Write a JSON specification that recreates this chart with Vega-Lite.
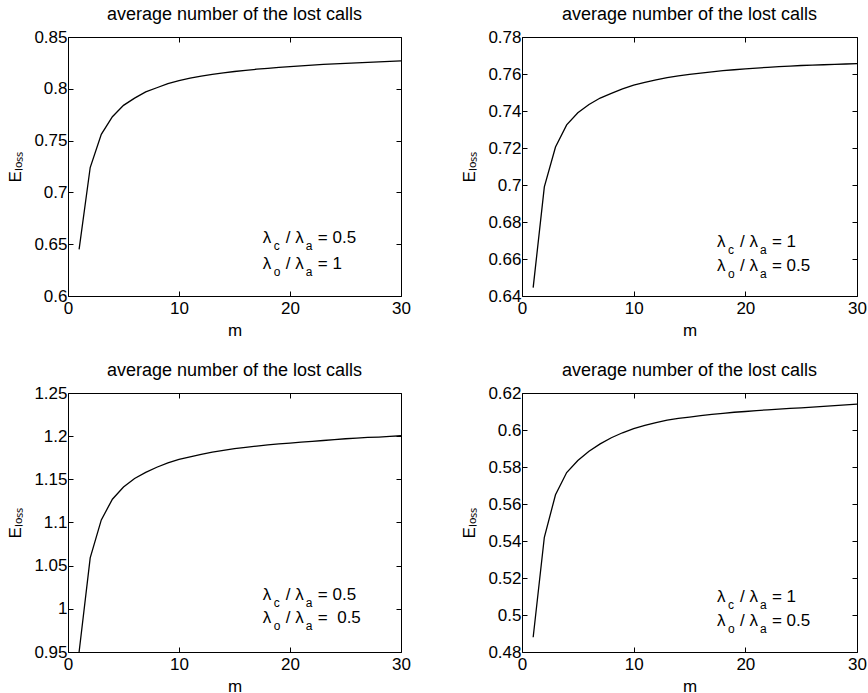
{
  "$schema": "https://vega.github.io/schema/vega-lite/v6.json",
  "autosize": {"type": "pad"},
  "padding": {"left": 6, "top": 5, "right": 0, "bottom": 0},
  "background": "white",
  "datasets": {
    "p1": [{"m":1,"E":0.645},{"m":2,"E":0.724},{"m":3,"E":0.756},{"m":4,"E":0.773},{"m":5,"E":0.784},{"m":6,"E":0.791},{"m":7,"E":0.797},{"m":8,"E":0.801},{"m":9,"E":0.805},{"m":10,"E":0.808},{"m":11,"E":0.8102},{"m":12,"E":0.8122},{"m":13,"E":0.8139},{"m":14,"E":0.8154},{"m":15,"E":0.8167},{"m":16,"E":0.8178},{"m":17,"E":0.8189},{"m":18,"E":0.8198},{"m":19,"E":0.8207},{"m":20,"E":0.8215},{"m":21,"E":0.8222},{"m":22,"E":0.8229},{"m":23,"E":0.8235},{"m":24,"E":0.8241},{"m":25,"E":0.8246},{"m":26,"E":0.8251},{"m":27,"E":0.8256},{"m":28,"E":0.826},{"m":29,"E":0.8265},{"m":30,"E":0.8269}],
    "p2": [{"m":1,"E":0.6445},{"m":2,"E":0.699},{"m":3,"E":0.7205},{"m":4,"E":0.7325},{"m":5,"E":0.739},{"m":6,"E":0.7435},{"m":7,"E":0.747},{"m":8,"E":0.7495},{"m":9,"E":0.752},{"m":10,"E":0.754},{"m":11,"E":0.7555},{"m":12,"E":0.7568},{"m":13,"E":0.758},{"m":14,"E":0.759},{"m":15,"E":0.7598},{"m":16,"E":0.7605},{"m":17,"E":0.7612},{"m":18,"E":0.7618},{"m":19,"E":0.7623},{"m":20,"E":0.7628},{"m":21,"E":0.7632},{"m":22,"E":0.7636},{"m":23,"E":0.764},{"m":24,"E":0.7643},{"m":25,"E":0.7646},{"m":26,"E":0.7648},{"m":27,"E":0.765},{"m":28,"E":0.7652},{"m":29,"E":0.7654},{"m":30,"E":0.7656}],
    "p3": [{"m":1,"E":0.95},{"m":2,"E":1.059},{"m":3,"E":1.103},{"m":4,"E":1.127},{"m":5,"E":1.141},{"m":6,"E":1.151},{"m":7,"E":1.158},{"m":8,"E":1.164},{"m":9,"E":1.169},{"m":10,"E":1.173},{"m":11,"E":1.176},{"m":12,"E":1.179},{"m":13,"E":1.1815},{"m":14,"E":1.1835},{"m":15,"E":1.1855},{"m":16,"E":1.187},{"m":17,"E":1.1885},{"m":18,"E":1.19},{"m":19,"E":1.191},{"m":20,"E":1.192},{"m":21,"E":1.193},{"m":22,"E":1.194},{"m":23,"E":1.195},{"m":24,"E":1.196},{"m":25,"E":1.197},{"m":26,"E":1.1977},{"m":27,"E":1.1985},{"m":28,"E":1.199},{"m":29,"E":1.1997},{"m":30,"E":1.2005}],
    "p4": [{"m":1,"E":0.488},{"m":2,"E":0.542},{"m":3,"E":0.565},{"m":4,"E":0.577},{"m":5,"E":0.5835},{"m":6,"E":0.5885},{"m":7,"E":0.5925},{"m":8,"E":0.5958},{"m":9,"E":0.5985},{"m":10,"E":0.6007},{"m":11,"E":0.6025},{"m":12,"E":0.604},{"m":13,"E":0.6053},{"m":14,"E":0.6063},{"m":15,"E":0.607},{"m":16,"E":0.6078},{"m":17,"E":0.6085},{"m":18,"E":0.609},{"m":19,"E":0.6096},{"m":20,"E":0.61},{"m":21,"E":0.6105},{"m":22,"E":0.6109},{"m":23,"E":0.6113},{"m":24,"E":0.6117},{"m":25,"E":0.612},{"m":26,"E":0.6124},{"m":27,"E":0.6128},{"m":28,"E":0.6132},{"m":29,"E":0.6136},{"m":30,"E":0.614}],
    "p1a": [{"m":17.55,"E":0.6558,"l1":"λ","s1":"c","l2":"/ λ","s2":"a","l3":"= 0.5"},{"m":17.55,"E":0.6308,"l1":"λ","s1":"o","l2":"/ λ","s2":"a","l3":"= 1"}],
    "p2a": [{"m":17.46,"E":0.6692,"l1":"λ","s1":"c","l2":"/ λ","s2":"a","l3":"= 1"},{"m":17.46,"E":0.6562,"l1":"λ","s1":"o","l2":"/ λ","s2":"a","l3":"= 0.5"}],
    "p3a": [{"m":17.55,"E":1.016,"l1":"λ","s1":"c","l2":"/ λ","s2":"a","l3":"= 0.5"},{"m":17.55,"E":0.9894,"l1":"λ","s1":"o","l2":"/ λ","s2":"a","l3":"\u00a0=\u00a0\u00a00.5"}],
    "p4a": [{"m":17.46,"E":0.5096,"l1":"λ","s1":"c","l2":"/ λ","s2":"a","l3":"= 1"},{"m":17.46,"E":0.4967,"l1":"λ","s1":"o","l2":"/ λ","s2":"a","l3":"= 0.5"}]
  },
  "concat": [
    {
      "width": 333, "height": 259,
      "title": "average number of the lost calls",
      "layer": [
        {"data": {"name": "p1"}, "mark": {"type": "line", "color": "black", "strokeWidth": 1.3},
         "encoding": {
           "x": {"field": "m", "type": "quantitative", "scale": {"domain": [0, 30], "nice": false}, "axis": {"orient": "bottom", "title": "m", "values": [0, 10, 20, 30]}},
           "y": {"field": "E", "type": "quantitative", "scale": {"domain": [0.6, 0.85], "nice": false, "zero": false}, "axis": {"orient": "left", "title": "Eₗₒₛₛ", "values": [0.6, 0.65, 0.7, 0.75, 0.8, 0.85]}}
         }},
        {"data": {"name": "p1a"},
         "encoding": {
           "x": {"field": "m", "type": "quantitative", "scale": {"domain": [0, 30], "nice": false}, "axis": {"orient": "top", "title": null, "labels": false, "values": [0, 10, 20, 30]}},
           "y": {"field": "E", "type": "quantitative", "scale": {"domain": [0.6, 0.85], "nice": false, "zero": false}, "axis": {"orient": "right", "title": null, "labels": false, "values": [0.6, 0.65, 0.7, 0.75, 0.8, 0.85]}}
         },
         "layer": [
           {"mark": {"type": "text", "align": "left", "baseline": "middle", "fontSize": 17}, "encoding": {"text": {"field": "l1"}}},
           {"mark": {"type": "text", "align": "left", "baseline": "middle", "fontSize": 12, "dx": 11, "dy": 8}, "encoding": {"text": {"field": "s1"}}},
           {"mark": {"type": "text", "align": "left", "baseline": "middle", "fontSize": 17, "dx": 23}, "encoding": {"text": {"field": "l2"}}},
           {"mark": {"type": "text", "align": "left", "baseline": "middle", "fontSize": 12, "dx": 43, "dy": 8}, "encoding": {"text": {"field": "s2"}}},
           {"mark": {"type": "text", "align": "left", "baseline": "middle", "fontSize": 17, "dx": 55}, "encoding": {"text": {"field": "l3"}}}
         ]}
      ],
      "resolve": {"axis": {"x": "independent", "y": "independent"}}
    },
    {
      "width": 335, "height": 259,
      "title": "average number of the lost calls",
      "layer": [
        {"data": {"name": "p2"}, "mark": {"type": "line", "color": "black", "strokeWidth": 1.3},
         "encoding": {
           "x": {"field": "m", "type": "quantitative", "scale": {"domain": [0, 30], "nice": false}, "axis": {"orient": "bottom", "title": "m", "values": [0, 10, 20, 30]}},
           "y": {"field": "E", "type": "quantitative", "scale": {"domain": [0.64, 0.78], "nice": false, "zero": false}, "axis": {"orient": "left", "title": "Eₗₒₛₛ", "values": [0.64, 0.66, 0.68, 0.7, 0.72, 0.74, 0.76, 0.78]}}
         }},
        {"data": {"name": "p2a"},
         "encoding": {
           "x": {"field": "m", "type": "quantitative", "scale": {"domain": [0, 30], "nice": false}, "axis": {"orient": "top", "title": null, "labels": false, "values": [0, 10, 20, 30]}},
           "y": {"field": "E", "type": "quantitative", "scale": {"domain": [0.64, 0.78], "nice": false, "zero": false}, "axis": {"orient": "right", "title": null, "labels": false, "values": [0.64, 0.66, 0.68, 0.7, 0.72, 0.74, 0.76, 0.78]}}
         },
         "layer": [
           {"mark": {"type": "text", "align": "left", "baseline": "middle", "fontSize": 17}, "encoding": {"text": {"field": "l1"}}},
           {"mark": {"type": "text", "align": "left", "baseline": "middle", "fontSize": 12, "dx": 11, "dy": 8}, "encoding": {"text": {"field": "s1"}}},
           {"mark": {"type": "text", "align": "left", "baseline": "middle", "fontSize": 17, "dx": 23}, "encoding": {"text": {"field": "l2"}}},
           {"mark": {"type": "text", "align": "left", "baseline": "middle", "fontSize": 12, "dx": 43, "dy": 8}, "encoding": {"text": {"field": "s2"}}},
           {"mark": {"type": "text", "align": "left", "baseline": "middle", "fontSize": 17, "dx": 55}, "encoding": {"text": {"field": "l3"}}}
         ]}
      ],
      "resolve": {"axis": {"x": "independent", "y": "independent"}}
    },
    {
      "width": 333, "height": 259,
      "title": "average number of the lost calls",
      "layer": [
        {"data": {"name": "p3"}, "mark": {"type": "line", "color": "black", "strokeWidth": 1.3},
         "encoding": {
           "x": {"field": "m", "type": "quantitative", "scale": {"domain": [0, 30], "nice": false}, "axis": {"orient": "bottom", "title": "m", "values": [0, 10, 20, 30]}},
           "y": {"field": "E", "type": "quantitative", "scale": {"domain": [0.95, 1.25], "nice": false, "zero": false}, "axis": {"orient": "left", "title": "Eₗₒₛₛ", "values": [0.95, 1, 1.05, 1.1, 1.15, 1.2, 1.25]}}
         }},
        {"data": {"name": "p3a"},
         "encoding": {
           "x": {"field": "m", "type": "quantitative", "scale": {"domain": [0, 30], "nice": false}, "axis": {"orient": "top", "title": null, "labels": false, "values": [0, 10, 20, 30]}},
           "y": {"field": "E", "type": "quantitative", "scale": {"domain": [0.95, 1.25], "nice": false, "zero": false}, "axis": {"orient": "right", "title": null, "labels": false, "values": [0.95, 1, 1.05, 1.1, 1.15, 1.2, 1.25]}}
         },
         "layer": [
           {"mark": {"type": "text", "align": "left", "baseline": "middle", "fontSize": 17}, "encoding": {"text": {"field": "l1"}}},
           {"mark": {"type": "text", "align": "left", "baseline": "middle", "fontSize": 12, "dx": 11, "dy": 8}, "encoding": {"text": {"field": "s1"}}},
           {"mark": {"type": "text", "align": "left", "baseline": "middle", "fontSize": 17, "dx": 23}, "encoding": {"text": {"field": "l2"}}},
           {"mark": {"type": "text", "align": "left", "baseline": "middle", "fontSize": 12, "dx": 43, "dy": 8}, "encoding": {"text": {"field": "s2"}}},
           {"mark": {"type": "text", "align": "left", "baseline": "middle", "fontSize": 17, "dx": 55}, "encoding": {"text": {"field": "l3"}}}
         ]}
      ],
      "resolve": {"axis": {"x": "independent", "y": "independent"}}
    },
    {
      "width": 335, "height": 259,
      "title": "average number of the lost calls",
      "layer": [
        {"data": {"name": "p4"}, "mark": {"type": "line", "color": "black", "strokeWidth": 1.3},
         "encoding": {
           "x": {"field": "m", "type": "quantitative", "scale": {"domain": [0, 30], "nice": false}, "axis": {"orient": "bottom", "title": "m", "values": [0, 10, 20, 30]}},
           "y": {"field": "E", "type": "quantitative", "scale": {"domain": [0.48, 0.62], "nice": false, "zero": false}, "axis": {"orient": "left", "title": "Eₗₒₛₛ", "values": [0.48, 0.5, 0.52, 0.54, 0.56, 0.58, 0.6, 0.62]}}
         }},
        {"data": {"name": "p4a"},
         "encoding": {
           "x": {"field": "m", "type": "quantitative", "scale": {"domain": [0, 30], "nice": false}, "axis": {"orient": "top", "title": null, "labels": false, "values": [0, 10, 20, 30]}},
           "y": {"field": "E", "type": "quantitative", "scale": {"domain": [0.48, 0.62], "nice": false, "zero": false}, "axis": {"orient": "right", "title": null, "labels": false, "values": [0.48, 0.5, 0.52, 0.54, 0.56, 0.58, 0.6, 0.62]}}
         },
         "layer": [
           {"mark": {"type": "text", "align": "left", "baseline": "middle", "fontSize": 17}, "encoding": {"text": {"field": "l1"}}},
           {"mark": {"type": "text", "align": "left", "baseline": "middle", "fontSize": 12, "dx": 11, "dy": 8}, "encoding": {"text": {"field": "s1"}}},
           {"mark": {"type": "text", "align": "left", "baseline": "middle", "fontSize": 17, "dx": 23}, "encoding": {"text": {"field": "l2"}}},
           {"mark": {"type": "text", "align": "left", "baseline": "middle", "fontSize": 12, "dx": 43, "dy": 8}, "encoding": {"text": {"field": "s2"}}},
           {"mark": {"type": "text", "align": "left", "baseline": "middle", "fontSize": 17, "dx": 55}, "encoding": {"text": {"field": "l3"}}}
         ]}
      ],
      "resolve": {"axis": {"x": "independent", "y": "independent"}}
    }
  ],
  "columns": 2,
  "spacing": {"row": 97, "column": 121},
  "bounds": "flush",
  "config": {
    "font": "Liberation Sans",
    "view": {"stroke": "black", "strokeWidth": 1},
    "text": {"color": "black", "font": "Liberation Sans"},
    "axis": {
      "domain": false, "grid": false,
      "tickColor": "black", "tickSize": -5, "tickWidth": 1,
      "labelFont": "Liberation Sans", "labelFontSize": 17, "labelColor": "black",
      "labelFlush": false, "labelOverlap": false,
      "titleFont": "Liberation Sans", "titleFontSize": 17, "titleColor": "black", "titleFontWeight": "normal"
    },
    "axisX": {"format": "d", "labelPadding": 9, "titlePadding": 6},
    "axisY": {"format": "~g", "labelPadding": 6, "titlePadding": 9},
    "title": {"font": "Liberation Sans", "fontSize": 18, "fontWeight": "normal", "color": "black", "offset": 0, "anchor": "middle"}
  }
}
